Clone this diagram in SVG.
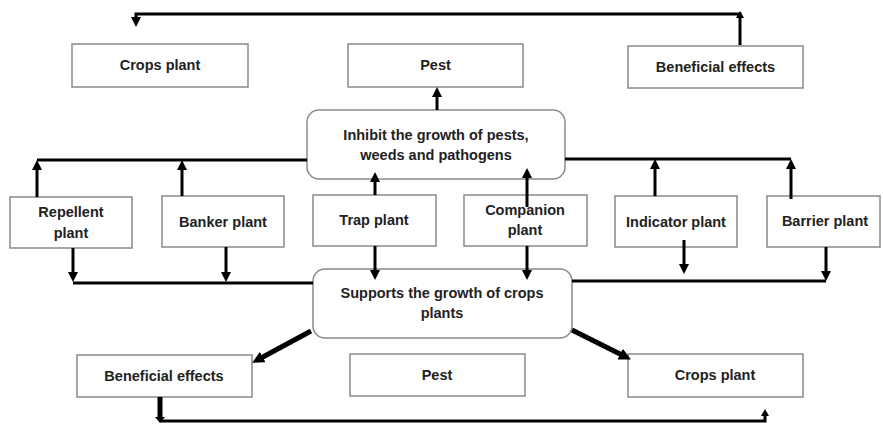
<svg xmlns="http://www.w3.org/2000/svg" width="883" height="425" viewBox="0 0 883 425">
<style>
.box{fill:#fff;stroke:#8a8a8a;stroke-width:1.5}
.t{font-family:"Liberation Sans",Arial,sans-serif;font-weight:bold;font-size:14.5px;fill:#222;text-anchor:middle;dominant-baseline:central}
.ln{fill:none;stroke:#000;stroke-width:3}
.thk{fill:none;stroke:#000;stroke-width:5}
</style>
<defs>
<marker id="ah" markerUnits="userSpaceOnUse" markerWidth="10" markerHeight="10" refX="2" refY="5" orient="auto">
<path d="M0,0 L10,5 L0,10 z" fill="#000"/>
</marker>
<marker id="ahb" markerUnits="userSpaceOnUse" markerWidth="12" markerHeight="12" refX="2" refY="6" orient="auto">
<path d="M0,0 L12,6 L0,12 z" fill="#000"/>
</marker>
</defs>
<rect width="883" height="425" fill="#fff"/>

<g id="top-crops"><rect class="box" x="72" y="44" width="176" height="43"/><text class="t" x="160" y="65">Crops plant</text></g>
<g id="top-pest"><rect class="box" x="348" y="44" width="175" height="43"/><text class="t" x="435.5" y="65">Pest</text></g>
<g id="top-beneficial"><rect class="box" x="628" y="46" width="175" height="42"/><text class="t" x="715.5" y="67">Beneficial effects</text></g>

<g id="inhibit"><rect class="box" x="307" y="110" width="258" height="69" rx="12"/>
<text class="t" x="436" y="135">Inhibit the growth of pests,</text>
<text class="t" x="436" y="155">weeds and pathogens</text></g>

<g id="repellent"><rect class="box" x="10" y="197" width="122" height="51"/><text class="t" x="71" y="212">Repellent</text><text class="t" x="71" y="233">plant</text></g>
<g id="banker"><rect class="box" x="162" y="196" width="122" height="51"/><text class="t" x="223" y="222">Banker plant</text></g>
<g id="trap"><rect class="box" x="313" y="195" width="123" height="51"/><text class="t" x="374" y="220">Trap plant</text></g>
<g id="companion"><rect class="box" x="464" y="195" width="123" height="51"/><text class="t" x="525" y="210">Companion</text><text class="t" x="525" y="230">plant</text></g>
<g id="indicator"><rect class="box" x="615" y="196" width="122" height="51"/><text class="t" x="676" y="222">Indicator plant</text></g>
<g id="barrier"><rect class="box" x="767" y="196" width="113" height="51"/><text class="t" x="825" y="221">Barrier plant</text></g>

<g id="supports"><rect class="box" x="313" y="269" width="259" height="69" rx="12"/>
<text class="t" x="442" y="293">Supports the growth of crops</text>
<text class="t" x="442" y="313">plants</text></g>

<g id="bottom-beneficial"><rect class="box" x="77" y="355" width="175" height="42"/><text class="t" x="164" y="376">Beneficial effects</text></g>
<g id="bottom-pest"><rect class="box" x="350" y="354" width="175" height="42"/><text class="t" x="437" y="375">Pest</text></g>
<g id="bottom-crops"><rect class="box" x="628" y="354" width="175" height="43"/><text class="t" x="715" y="375">Crops plant</text></g>

<g id="connectors">
<path class="ln" d="M740,45 V14 H136 V19" marker-end="url(#ah)"/>
<polygon points="736,18 740,11 744,18" fill="#000"/>
<path class="ln" d="M437,110 V95" stroke-width="4" marker-end="url(#ah)"/>
<path class="ln" d="M307,160 H37"/>
<path class="ln" d="M565,159 H791"/>
<path class="ln" d="M37,197 V168" marker-end="url(#ah)"/>
<path class="ln" d="M182,196 V168" marker-end="url(#ah)"/>
<path class="ln" d="M375,195 V180" marker-end="url(#ah)"/>
<path class="ln" d="M527,207 V176" marker-end="url(#ah)"/>
<path class="ln" d="M655,196 V167" marker-end="url(#ah)"/>
<path class="ln" d="M791,199 V167" marker-end="url(#ah)"/>
<path class="ln" d="M313,283 H73"/>
<path class="ln" d="M572,281 H826"/>
<path class="ln" d="M73,248 V274" marker-end="url(#ah)"/>
<path class="ln" d="M226,247 V274" marker-end="url(#ah)"/>
<path class="ln" d="M375,246 V272" marker-end="url(#ah)"/>
<path class="ln" d="M527,246 V272" marker-end="url(#ah)"/>
<path class="ln" d="M684,240 V266" marker-end="url(#ah)"/>
<path class="ln" d="M826,247 V273" marker-end="url(#ah)"/>
<path class="thk" d="M311,331 L261,358" marker-end="url(#ahb)"/>
<path class="thk" d="M572,330 L622,355" marker-end="url(#ahb)"/>
<path class="thk" d="M160,397 V418"/>
<polygon points="155,417 165,417 160,423" fill="#000"/>
<path class="ln" d="M160,421 H765 V415" stroke-width="2.5"/>
<polygon points="761,416 765,409 769,416" fill="#000"/>
</g>
</svg>
